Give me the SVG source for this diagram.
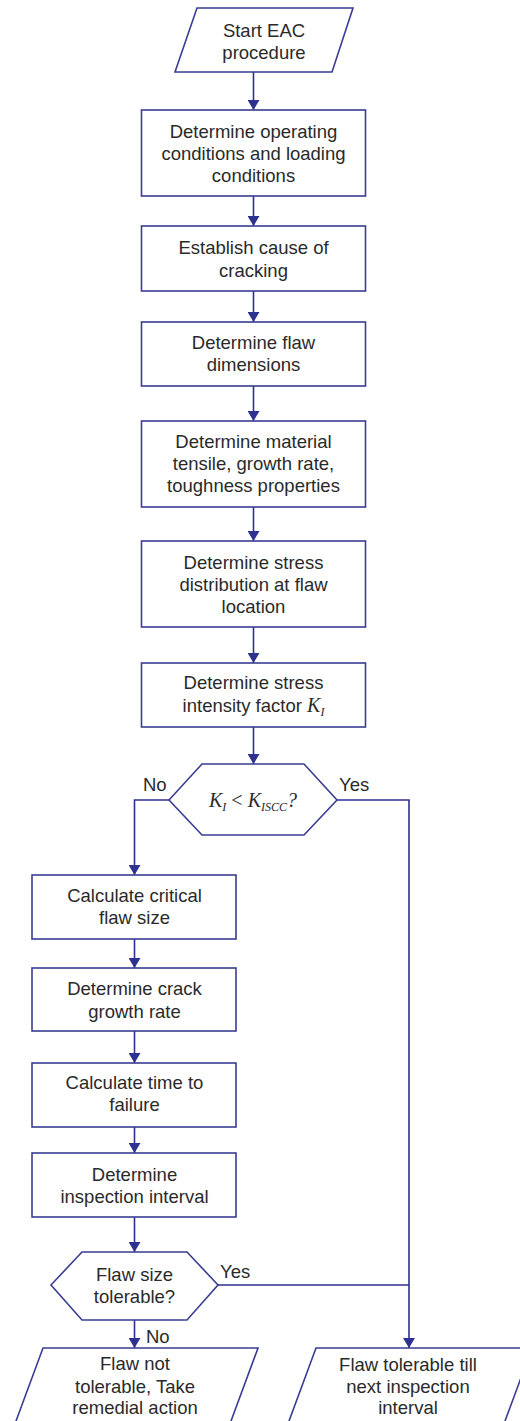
<svg xmlns="http://www.w3.org/2000/svg" width="520" height="1421" viewBox="0 0 520 1421">
<defs>
<marker id="arr" markerWidth="12" markerHeight="12" refX="10" refY="6" orient="auto" markerUnits="userSpaceOnUse">
<path d="M0,0 L10,6 L0,12 Z" fill="#2e3190"/>
</marker>
<style>
.s{fill:#fff;stroke:#3a3d92;stroke-width:1.6}
.t{font-family:"Liberation Sans",Arial,sans-serif;font-size:18.5px;fill:#2a2a2a;text-anchor:middle}
.l{font-family:"Liberation Sans",Arial,sans-serif;font-size:18.5px;fill:#2a2a2a}
.m{font-family:"Liberation Serif","Times New Roman",serif;font-style:italic;fill:#2a2a2a}
.c{fill:none;stroke:#2e3190;stroke-width:1.6}
</style>
</defs>
<rect width="520" height="1421" fill="#fff"/>
<g id="connectors">
<path class="c" d="M253.5,72 V110" marker-end="url(#arr)"/>
<path class="c" d="M253.5,196 V226" marker-end="url(#arr)"/>
<path class="c" d="M253.5,291 V322" marker-end="url(#arr)"/>
<path class="c" d="M253.5,386 V421" marker-end="url(#arr)"/>
<path class="c" d="M253.5,507 V541" marker-end="url(#arr)"/>
<path class="c" d="M253.5,627 V663" marker-end="url(#arr)"/>
<path class="c" d="M253.5,727 V764" marker-end="url(#arr)"/>
<path class="c" d="M169,800 H134.5 V875" marker-end="url(#arr)"/>
<path class="c" d="M337,800 H409 V1348" marker-end="url(#arr)"/>
<path class="c" d="M134.5,939 V968" marker-end="url(#arr)"/>
<path class="c" d="M134.5,1031 V1063" marker-end="url(#arr)"/>
<path class="c" d="M134.5,1127 V1153" marker-end="url(#arr)"/>
<path class="c" d="M134.5,1217 V1252" marker-end="url(#arr)"/>
<path class="c" d="M218,1285 H409"/>
<path class="c" d="M134.5,1320 V1348" marker-end="url(#arr)"/>
<text class="l" x="143" y="791">No</text>
<text class="l" x="339" y="791">Yes</text>
<text class="l" x="220" y="1278">Yes</text>
<text class="l" x="146" y="1343">No</text>
</g>
<g id="start">
<polygon class="s" points="197,8 353,8 332,72 175,72"/>
<text class="t" x="264" y="36.5">Start EAC</text>
<text class="t" x="264" y="58.5">procedure</text>
</g>
<g id="n1">
<rect class="s" x="141.5" y="110" width="224" height="86"/>
<text class="t" x="253.5" y="138">Determine operating</text>
<text class="t" x="253.5" y="160">conditions and loading</text>
<text class="t" x="253.5" y="182">conditions</text>
</g>
<g id="n2">
<rect class="s" x="141.5" y="226" width="224" height="65"/>
<text class="t" x="253.5" y="254">Establish cause of</text>
<text class="t" x="253.5" y="277">cracking</text>
</g>
<g id="n3">
<rect class="s" x="141.5" y="322" width="224" height="64"/>
<text class="t" x="253.5" y="349">Determine flaw</text>
<text class="t" x="253.5" y="371">dimensions</text>
</g>
<g id="n4">
<rect class="s" x="141.5" y="421" width="224" height="86"/>
<text class="t" x="253.5" y="448">Determine material</text>
<text class="t" x="253.5" y="470">tensile, growth rate,</text>
<text class="t" x="253.5" y="492">toughness properties</text>
</g>
<g id="n5">
<rect class="s" x="141.5" y="541" width="224" height="86"/>
<text class="t" x="253.5" y="569">Determine stress</text>
<text class="t" x="253.5" y="591">distribution at flaw</text>
<text class="t" x="253.5" y="613">location</text>
</g>
<g id="n6">
<rect class="s" x="141.5" y="663" width="224" height="64"/>
<text class="t" x="253.5" y="689">Determine stress</text>
<text class="t" x="253.5" y="712">intensity factor <tspan class="m" font-size="20">K</tspan><tspan class="m" font-size="12" dy="4">I</tspan></text>
</g>
<g id="d1">
<polygon class="s" points="169,800 202,764 304,764 337,800 304,835 202,835"/>
<text class="m" x="253" y="807" font-size="20" text-anchor="middle">K<tspan font-size="12" dy="4">I</tspan><tspan dy="-4" font-style="normal"> &lt; </tspan>K<tspan font-size="12" dy="4">ISCC</tspan><tspan dy="-4">?</tspan></text>
</g>
<g id="n7">
<rect class="s" x="32" y="875" width="204" height="64"/>
<text class="t" x="134.5" y="902">Calculate critical</text>
<text class="t" x="134.5" y="924">flaw size</text>
</g>
<g id="n8">
<rect class="s" x="32" y="968" width="204" height="63"/>
<text class="t" x="134.5" y="995">Determine crack</text>
<text class="t" x="134.5" y="1018">growth rate</text>
</g>
<g id="n9">
<rect class="s" x="32" y="1063" width="204" height="64"/>
<text class="t" x="134.5" y="1089">Calculate time to</text>
<text class="t" x="134.5" y="1111">failure</text>
</g>
<g id="n10">
<rect class="s" x="32" y="1153" width="204" height="64"/>
<text class="t" x="134.5" y="1181">Determine</text>
<text class="t" x="134.5" y="1203">inspection interval</text>
</g>
<g id="d2">
<polygon class="s" points="51,1285 82,1252 187,1252 218,1285 187,1320 82,1320"/>
<text class="t" x="134.5" y="1281">Flaw size</text>
<text class="t" x="134.5" y="1303">tolerable?</text>
</g>
<g id="e1">
<polygon class="s" points="43,1348 258,1348 224,1440 9,1440"/>
<text class="t" x="135" y="1370">Flaw not</text>
<text class="t" x="135" y="1393">tolerable, Take</text>
<text class="t" x="135" y="1414">remedial action</text>
</g>
<g id="e2">
<polygon class="s" points="316,1348 532,1348 498,1440 282,1440"/>
<text class="t" x="408" y="1371">Flaw tolerable till</text>
<text class="t" x="408" y="1393">next inspection</text>
<text class="t" x="408" y="1414">interval</text>
</g>
</svg>
